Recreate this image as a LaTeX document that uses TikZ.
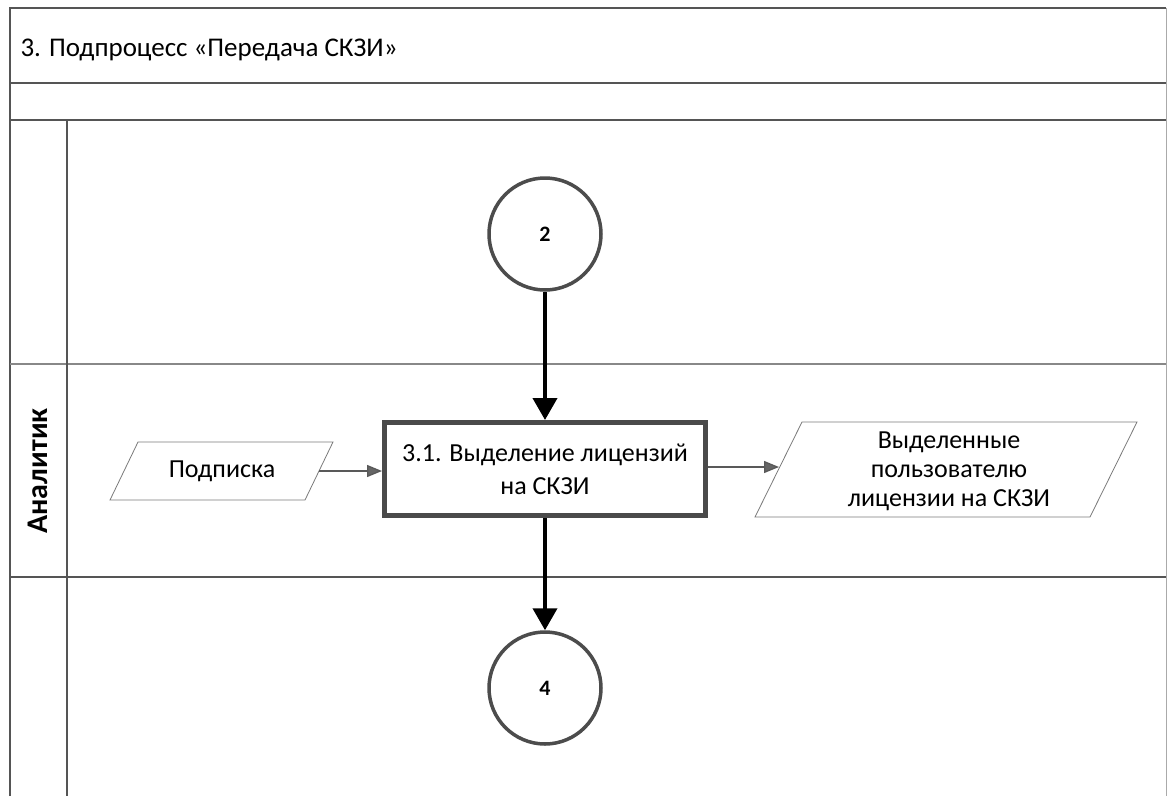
\documentclass[tikz,border=0pt]{standalone}
\usepackage{fontspec}
\setmainfont{Carlito}
\usetikzlibrary{arrows.meta,calc}
\definecolor{frame}{HTML}{555555}
\definecolor{boxline}{HTML}{4A4A4A}
\definecolor{para}{HTML}{7A7A7A}
\tikzset{
  lane/.style={draw=frame, line width=1.4pt},
  thinlane/.style={draw=frame!70, line width=1.1pt},
  conn/.style={draw=black!70, line width=3.5pt, circle, minimum size=112pt, inner sep=0pt, font=\fontsize{22}{24}\selectfont\bfseries},
  task/.style={draw=boxline, line width=5pt, minimum width=321pt, minimum height=93pt, align=center, inner sep=2pt, font=\fontsize{26}{33}\selectfont},
  datashape/.style={draw=para, line width=0.8pt},
  datatext/.style={align=center, inner sep=0pt, font=\fontsize{26}{29}\selectfont},
  flowthick/.style={draw=black, line width=4pt, -{Triangle[length=22pt,width=24pt]}},
  flowthin/.style={draw=black!65, line width=1.3pt, -{Triangle[length=15pt,width=12pt,fill=black!60]}}
}
\begin{document}
\begin{tikzpicture}[x=1pt,y=-1pt]
\useasboundingbox (0,0) rectangle (1168,796);
\fill[white] (0,0) rectangle (1168,796);
% frame
\draw[lane] (10,796) -- (10,8) -- (1166,8);
\draw[draw=frame!50, line width=0.8pt] (1166,8) -- (1166,796);
\draw[lane] (10,83) -- (1166,83);
\draw[lane] (10,120) -- (1166,120);
\draw[thinlane] (10,364) -- (1166,364);
\draw[lane] (10,577) -- (1166,577);
\draw[lane] (67,120) -- (67,796);
% title
\node[anchor=west, font=\fontsize{27}{30}\selectfont] (title) at (17,50) {3. Подпроцесс «Передача СКЗИ»};
% lane label
\node[rotate=90, font=\fontsize{30}{34}\selectfont\bfseries] (role) at (38,471) {Аналитик};
% nodes
\node[conn] (c2) at (545,234) {2};
\node[task] (t31) at (545,469) {3.1. Выделение лицензий\\на СКЗИ};
\node[conn] (c4) at (545,688) {4};
% input data
\coordinate (inA) at (138,442);
\coordinate (inB) at (333,442);
\coordinate (inC) at (305,500);
\coordinate (inD) at (110,500);
\draw[datashape] (inA) -- (inB) -- (inC) -- (inD) -- cycle;
\node[datatext] (in) at (222,471) {Подписка};
\coordinate (inR) at ($(inB)!0.5!(inC)$);
% output data
\coordinate (outA) at (802,422);
\coordinate (outB) at (1137,422);
\coordinate (outC) at (1090,517);
\coordinate (outD) at (755,517);
\draw[datashape] (outA) -- (outB) -- (outC) -- (outD) -- cycle;
\node[datatext] (out) at (949,471) {Выделенные\\пользователю\\лицензии на СКЗИ};
\coordinate (outL) at (779,467);
% connectors
\draw[flowthick] (c2) -- (t31);
\draw[flowthick] (t31) -- (c4);
\draw[flowthin] (inR) -- (t31.west |- inR);
\draw[flowthin] (t31.east |- outL) -- (outL);
\end{tikzpicture}
\end{document}
